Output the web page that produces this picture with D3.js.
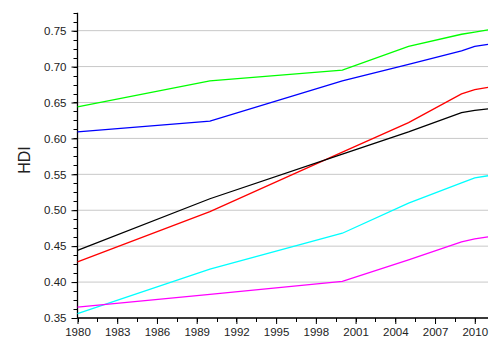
<!DOCTYPE html>
<html>
<head>
<meta charset="utf-8">
<script src="https://cdn.jsdelivr.net/npm/d3@7"></script>
<style>
  body { margin: 0; background: #fff; }
  svg text { font-family: "Liberation Sans", Arial, sans-serif; fill: #222; }
</style>
</head>
<body>
<div id="graph"></div>
<script>
// HDI trends by region (UNDP)
var years = [1980, 1990, 2000, 2005, 2009, 2010, 2011]
var europeCentralAsia = [0.644, 0.680, 0.695, 0.728, 0.745, 0.748, 0.751]
var latinAmerica      = [0.609, 0.624, 0.680, 0.703, 0.722, 0.728, 0.731]
var eastAsiaPacific   = [0.428, 0.498, 0.581, 0.622, 0.662, 0.668, 0.671]
var arabStates        = [0.444, 0.516, 0.578, 0.609, 0.636, 0.639, 0.641]
var southAsia         = [0.356, 0.418, 0.468, 0.510, 0.538, 0.545, 0.548]
var subSaharanAfrica  = [0.365, 0.383, 0.401, 0.431, 0.456, 0.460, 0.463]

var xTicks = d3.range(1980, 2011, 3)
var yTicks = d3.range(0.35, 0.751, 0.05)

var series = [
  {values: europeCentralAsia, color: '#00ff00'},
  {values: latinAmerica, color: '#0000ff'},
  {values: eastAsiaPacific, color: '#ff0000'},
  {values: arabStates, color: '#000000'},
  {values: southAsia, color: '#00ffff'},
  {values: subSaharanAfrica, color: '#ff00ff'}
]

var width = 500, height = 351
var x = d3.scaleLinear().domain([1980, 2011]).range([77.5, 488])
var y = d3.scaleLinear().domain([0.35, 0.775]).range([318, 12.7])

var svg = d3.select('#graph').append('svg')
  .attr('width', width).attr('height', height)

// grid
svg.append('g').selectAll('line')
  .data(yTicks).join('line')
  .attr('x1', x(1980)).attr('x2', x(2011))
  .attr('y1', d => y(d)).attr('y2', d => y(d))
  .attr('stroke', '#c8c8c8').attr('stroke-width', 1)

// minor ticks
var yMinor = d3.range(0.35, 0.7751, 0.0125)
var xMinor = d3.range(1980, 2011.01, 1.5)

svg.append('g').selectAll('line')
  .data(yMinor).join('line')
  .attr('x1', x(1980) - 4).attr('x2', x(1980))
  .attr('y1', d => Math.round(y(d)) + 0.5).attr('y2', d => Math.round(y(d)) + 0.5)
  .attr('stroke', '#000')

svg.append('g').selectAll('line')
  .data(xMinor).join('line')
  .attr('x1', d => Math.round(x(d)) + 0.5).attr('x2', d => Math.round(x(d)) + 0.5)
  .attr('y1', y(0.35)).attr('y2', y(0.35) + 4)
  .attr('stroke', '#000')

// axes
var yAxis = d3.axisLeft(y).tickValues(yTicks).tickFormat(d3.format('.2f')).tickSize(6).tickPadding(5)
var xAxis = d3.axisBottom(x).tickValues(xTicks).tickFormat(d3.format('d')).tickSize(6).tickPadding(4)

var gy = svg.append('g').attr('transform', 'translate(' + x(1980) + ',0)').call(yAxis)
var gx = svg.append('g').attr('transform', 'translate(0,' + y(0.35) + ')').call(xAxis)

;[gx, gy].forEach(g => {
  g.select('.domain').attr('stroke', '#000').attr('stroke-width', 1.3)
    .attr('d', g === gx ? 'M' + x(1980) + ',0H' + x(2011) : 'M0,' + y(0.775) + 'V' + y(0.35))
  g.selectAll('.tick line').attr('stroke', '#000')
  g.selectAll('.tick text').attr('font-size', 11.5).attr('fill', '#222')
    .style('font-family', '"Liberation Sans", Arial, sans-serif')
})

svg.append('text')
  .attr('transform', 'translate(29.5,' + 160 + ') rotate(-90)')
  .attr('text-anchor', 'middle')
  .attr('font-size', 16)
  .text('HDI')

// lines
var line = d3.line()
  .x((d, i) => x(years[i]))
  .y(d => y(d))

svg.append('g').selectAll('path')
  .data(series).join('path')
  .attr('d', d => line(d.values))
  .attr('fill', 'none')
  .attr('stroke', d => d.color)
  .attr('stroke-width', 1.3)
</script>
</body>
</html>
